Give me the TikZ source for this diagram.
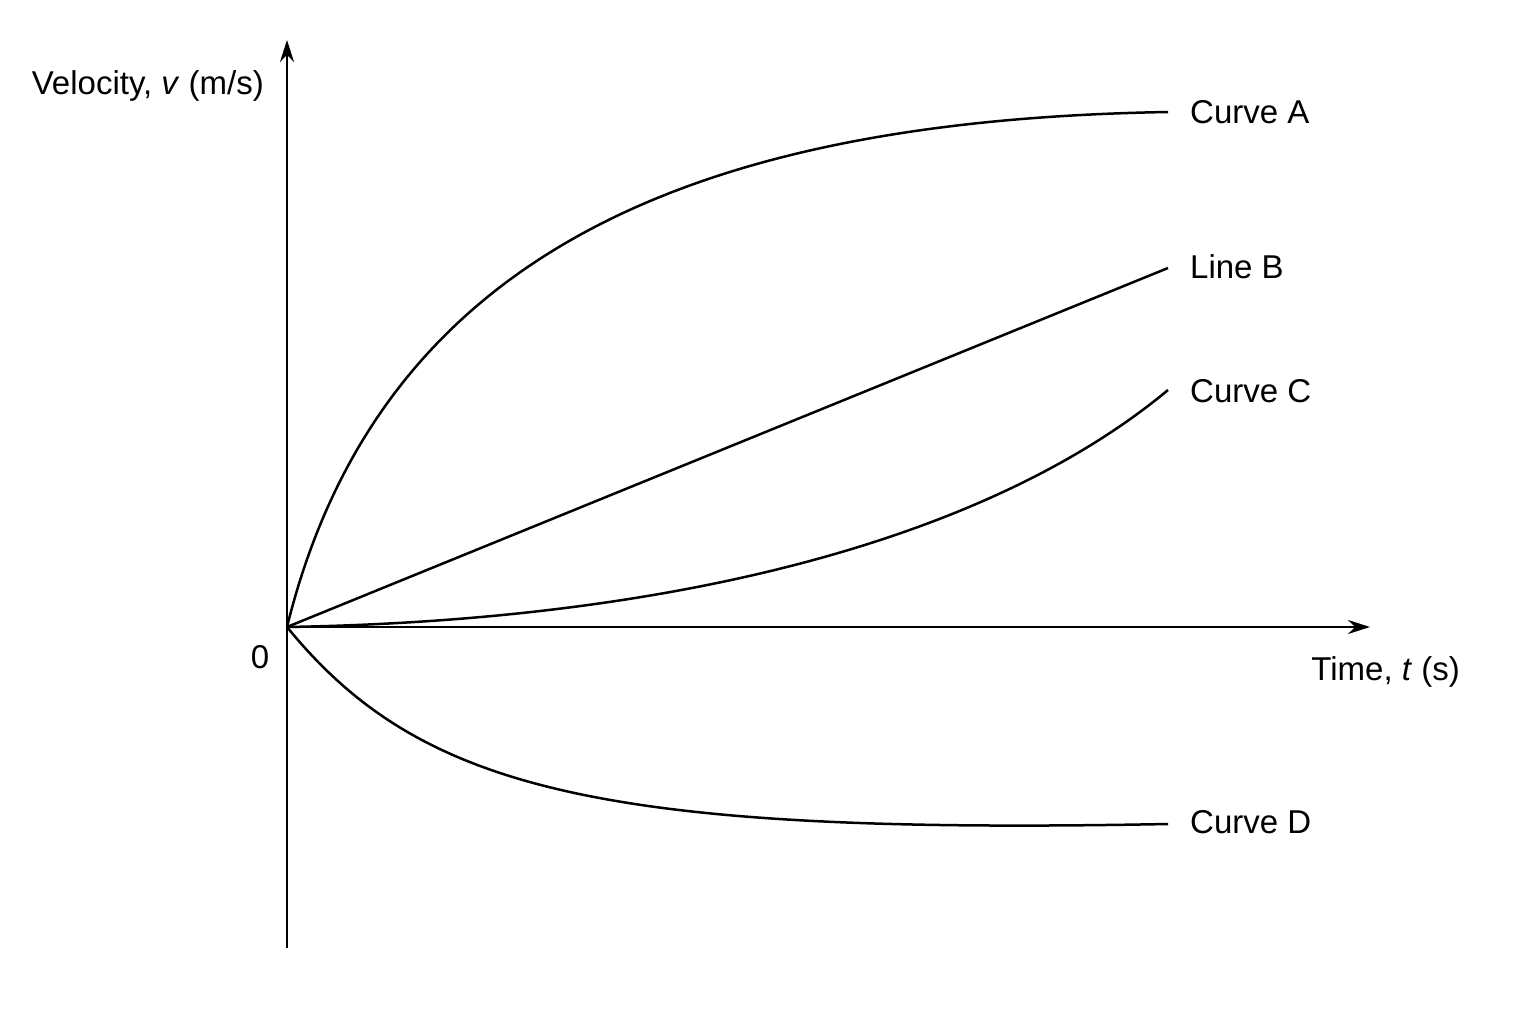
\documentclass[tikz,border=0pt]{standalone}
\usepackage{fontspec}
\setmainfont{Liberation Sans}
\usetikzlibrary{arrows.meta}
\begin{document}
\begin{tikzpicture}[x=1pt,y=-1pt,
  curve/.style={line width=2.5pt},
  ax/.style={line width=2.5pt,-{Stealth[length=22pt,width=14pt]}},
  lab/.style={font=\fontsize{33}{38}\selectfont,inner sep=0pt}]
\useasboundingbox (0,0) rectangle (1536,1024);
\coordinate (O) at (287,627);
\coordinate (ybot) at (287,948);
\coordinate (ytop) at (287,40);
\coordinate (xend) at (1370,627);
\coordinate (A) at (1168,112);
\coordinate (B) at (1168,268);
\coordinate (C) at (1168,390);
\coordinate (D) at (1168,824);
\draw[ax] (ybot) -- (ytop);
\draw[ax] (O) -- (xend);
\draw[curve] (O) .. controls (380,250) and (700,120) .. (A);
\draw[curve] (O) -- (B);
\draw[curve] (O) .. controls (700,620) and (1000,530) .. (C);
\draw[curve] (O) .. controls (420,790) and (600,835) .. (D);
\node[lab,anchor=west] (la) at (1190,112) {Curve A};
\node[lab,anchor=west] (lb) at (1190,267) {Line B};
\node[lab,anchor=west] (lc) at (1190,391) {Curve C};
\node[lab,anchor=west] (ld) at (1190,822) {Curve D};
\node[lab,anchor=east] (vl) at (264,86) {Velocity, \textit{v} (m/s)};
\node[lab] (zero) at (260,657) {0};
\node[lab,anchor=east] (tl) at (1460,672) {Time, \textit{t} (s)};
\end{tikzpicture}
\end{document}
